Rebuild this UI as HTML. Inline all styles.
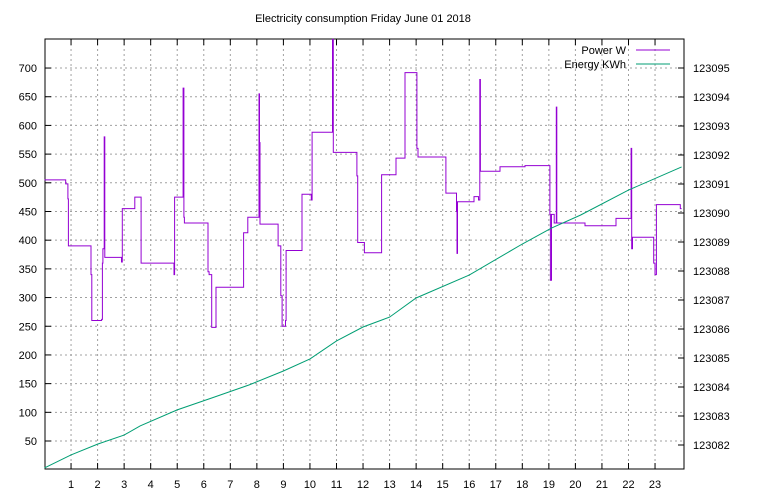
<!DOCTYPE html>
<html><head><meta charset="utf-8"><style>
body{margin:0;background:#fff}
svg{display:block;font-family:"Liberation Sans",sans-serif;font-size:11px}
</style></head><body>
<svg id="c" width="768" height="500">
<text x="363" y="22" text-anchor="middle">Electricity consumption Friday June 01 2018</text>
<g id="grid"></g><g id="axes"></g><g id="series"></g>
<g>
<text x="626" y="54" text-anchor="end">Power W</text>
<line x1="636" y1="50" x2="670" y2="50" stroke="#9400d3"/>
<text x="626" y="68" text-anchor="end">Energy KWh</text>
<line x1="636" y1="64" x2="670" y2="64" stroke="#009e73"/>
</g>
</svg>
<script>
const powerTimes=[0,0.8,0.88,0.9,1.75,1.78,2.15,2.18,2.2,2.25,2.27,2.9,2.93,3.4,3.64,4.88,4.9,5.22,5.25,5.27,6.16,6.2,6.3,6.46,7.5,7.66,8.08,8.1,8.12,8.8,8.9,8.95,9.08,9.1,9.7,10.05,10.08,10.85,10.88,11.77,11.8,12.05,12.7,13.24,13.58,14.03,14.07,15.12,15.52,15.54,15.56,16.18,16.35,16.4,16.42,17.16,18.1,19.04,19.06,19.1,19.2,19.28,19.3,20.36,21.53,22.1,22.12,22.15,22.95,23.0,23.05,23.95,24];
const powerValues=[505,498,472,390,340,260,262,360,385,580,370,362,455,475,360,340,475,665,440,430,345,340,248,318,413,440,655,570,428,390,303,250,260,382,480,470,588,750,553,512,396,378,514,543,692,560,545,482,450,377,467,476,470,680,520,528,530,445,330,445,430,632,430,425,438,560,385,405,360,340,462,455,455];
const energyTimes=[0,1,2,3,3.6,5,6.3,7.7,9,10,11,12,13,14,16,18,19.1,20.2,22,24];
const energyValues=[123081.21,123081.66,123082.03,123082.34,123082.66,123083.21,123083.62,123084.07,123084.55,123084.97,123085.59,123086.07,123086.41,123087.07,123087.86,123088.93,123089.48,123089.93,123090.79,123091.59];
const xTicks=[1,2,3,4,5,6,7,8,9,10,11,12,13,14,15,16,17,18,19,20,21,22,23];
const yTicks=[50,100,150,200,250,300,350,400,450,500,550,600,650,700];
const y2Ticks=[123082,123083,123084,123085,123086,123087,123088,123089,123090,123091,123092,123093,123094,123095];
const L=45,R=684,T=39,B=469;
const X=h=>44.5+h*26.545;
const Y=v=>469.7-v*0.5738;
const Y2=v=>68+(123095-v)*29;
const NS="http://www.w3.org/2000/svg";
function mk(tag,parent,attrs){const e=document.createElementNS(NS,tag);for(const k in attrs)e.setAttribute(k,attrs[k]);document.getElementById(parent).appendChild(e);return e;}
xTicks.forEach(t=>{const x=X(t);
 const g=mk('line','grid',{x1:x,x2:x,y1:T,y2:B,stroke:'#a0a0a0','stroke-dasharray':'2,3'});
 
 
 mk('line','axes',{x1:x,x2:x,y1:B,y2:B-6,stroke:'#000'});
 mk('line','axes',{x1:x,x2:x,y1:T,y2:T+6,stroke:'#000'});
 const tx=mk('text','axes',{x:x,y:B+19,'text-anchor':'middle'});tx.textContent=t;
 
 
});
yTicks.forEach(t=>{const y=Y(t);
 const g=mk('line','grid',{x1:L,x2:R,y1:y,y2:y,stroke:'#a0a0a0','stroke-dasharray':'2,3'});
 
 
 mk('line','axes',{x1:L,x2:L+6,y1:y,y2:y,stroke:'#000'});
 const tx=mk('text','axes',{x:L-8,y:y+4,'text-anchor':'end'});tx.textContent=t;
 
 
});
y2Ticks.forEach(t=>{const y=Y2(t);
 mk('line','axes',{x1:R,x2:R-6,y1:y,y2:y,stroke:'#000'});
 const tx=mk('text','axes',{x:R+9,y:y+4});tx.textContent=t;
 
 
});
const fr=mk('rect','axes',{x:L,y:T,width:R-L,height:B-T,fill:'none',stroke:'#000'});


let d='';
powerTimes.forEach((t,i)=>{const x=X(t).toFixed(1),y=Math.max(T,Y(powerValues[i])).toFixed(1);
 if(i===0)d+='M'+x+','+y;else d+='H'+x+'V'+y;});
const pp=mk('path','series',{d:d,fill:'none',stroke:'#9400d3','stroke-width':1});


const ep=mk('polyline','series',{points:energyTimes.map((t,i)=>X(t).toFixed(1)+','+Y2(energyValues[i]).toFixed(1)).join(' '),fill:'none',stroke:'#009e73','stroke-width':1});


</script>
</body></html>
